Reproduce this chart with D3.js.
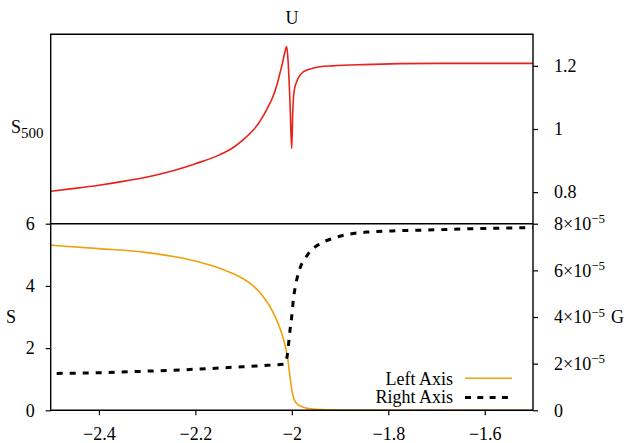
<!DOCTYPE html>
<html><head><meta charset="utf-8">
<script src="https://cdn.jsdelivr.net/npm/d3@7"></script>
<style>
body{margin:0;background:#fff}
text{font-family:"Liberation Serif","Times New Roman",serif;fill:#000}
</style>
</head><body>
<svg id="c" width="626" height="443"></svg>
<script>
// ---- data ----
const s500X = [-2.5,-2.45,-2.4,-2.35,-2.3,-2.25,-2.2,-2.15,-2.12,-2.1,-2.08,-2.07,-2.06,-2.05,-2.04,-2.035,-2.03,-2.025,-2.02,-2.015,-2.0107,-2.008,-2.0038,-2.0003,-1.998,-1.9955,-1.99,-1.985,-1.98,-1.97,-1.96,-1.942,-1.915,-1.85,-1.776,-1.7,-1.6,-1.5];
const s500Y = [0.803,0.812,0.822,0.834,0.848,0.866,0.890,0.918,0.943,0.967,0.997,1.016,1.040,1.068,1.100,1.120,1.145,1.175,1.205,1.240,1.261,1.220,1.082,0.938,1.060,1.118,1.150,1.166,1.176,1.186,1.191,1.197,1.200,1.204,1.207,1.208,1.208,1.208];

const sX = [-2.5,-2.4,-2.3,-2.2,-2.15,-2.12,-2.1,-2.09,-2.08,-2.07,-2.06,-2.05,-2.04,-2.03,-2.025,-2.02,-2.015,-2.012,-2.008,-2.004,-2.0,-1.996,-1.99,-1.98,-1.97,-1.95,-1.9,-1.8,-1.5];
const sY = [5.31,5.20,5.07,4.80,4.57,4.38,4.22,4.12,4.00,3.85,3.67,3.45,3.18,2.85,2.65,2.42,2.15,1.95,1.6,1.1,0.65,0.38,0.22,0.12,0.07,0.03,0.01,0.004,0.0];

const gX = [-2.5,-2.4,-2.3,-2.2,-2.1,-2.05,-2.015,-2.0094,-2.0038,-2.0003,-1.997,-1.9914,-1.983,-1.9727,-1.9624,-1.945,-1.915,-1.879,-1.844,-1.776,-1.7,-1.637,-1.5];
const gY = [1.58e-5,1.61e-5,1.68e-5,1.76e-5,1.87e-5,1.93e-5,1.98e-5,2.37e-5,3.44e-5,4.01e-5,4.73e-5,5.44e-5,6.1e-5,6.5e-5,6.8e-5,7.1e-5,7.37e-5,7.56e-5,7.64e-5,7.70e-5,7.74e-5,7.78e-5,7.83e-5];

const xTicks = [-2.4,-2.2,-2.0,-1.8,-1.6];
const xTickLabels = ["\u22122.4","\u22122.2","\u22122","\u22121.8","\u22121.6"];
const topRightTicks = [0.8,1.0,1.2];
const topRightLabels = ["0.8","1","1.2"];
const leftTicks = [0,2,4,6];
const leftLabels = ["0","2","4","6"];
const rightTicks = [0,2e-5,4e-5,6e-5,8e-5];
const rightMant = ["0","2\u00d710","4\u00d710","6\u00d710","8\u00d710"];
const rightExp = ["","\u22125","\u22125","\u22125","\u22125"];

const title = "U";
const legendLabels = ["Left Axis","Right Axis"];

// ---- layout ----
const L = 50.7, R = 533, T = 34.3, M = 223.7, B = 410.3;
const FS = 18;
const red = "#e8221b", orange = "#eea20c";

const svg = d3.select("#c");
const x = d3.scaleLinear().domain([-2.5,-1.5]).range([L,R]);
const yTop = d3.scaleLinear().domain([0.7,1.3]).range([M,T]);
const yLeft = d3.scaleLinear().domain([0,6]).range([B,M]);
const yRight = d3.scaleLinear().domain([0,8e-5]).range([B,M]);

svg.append("clipPath").attr("id","ct").append("rect").attr("x",L).attr("y",T).attr("width",R-L).attr("height",M-T);
svg.append("clipPath").attr("id","cb").append("rect").attr("x",L).attr("y",M).attr("width",R-L).attr("height",B-M);

// curves
const lineTop = d3.line().x((d,i)=>x(s500X[i])).y(d=>yTop(d)).curve(d3.curveMonotoneX);
svg.append("path").attr("clip-path","url(#ct)").attr("d",lineTop(s500Y))
  .attr("fill","none").attr("stroke",red).attr("stroke-width",1.6);

const lineS = d3.line().x((d,i)=>x(sX[i])).y(d=>yLeft(d)).curve(d3.curveMonotoneX);
svg.append("path").attr("clip-path","url(#cb)").attr("d",lineS(sY))
  .attr("fill","none").attr("stroke",orange).attr("stroke-width",1.6);

const lineG = d3.line().x((d,i)=>x(gX[i])).y(d=>yRight(d)).curve(d3.curveMonotoneX);
svg.append("path").attr("d",lineG(gY))
  .attr("fill","none").attr("stroke","#000").attr("stroke-width",3)
  .attr("stroke-dasharray","6,7").attr("stroke-dashoffset",7);

// frames
const fr = svg.append("g").attr("stroke","#000").attr("stroke-width",1.4).attr("fill","none");
fr.append("path").attr("d",`M${L},${M}V${T}H${R}V${B}`);
fr.append("path").attr("d",`M${L},${M}V${B}H${R}`);
fr.append("path").attr("d",`M${L},${M}H${R}`);

function styleAxis(g){
  g.select(".domain").remove();
  g.selectAll(".tick line").attr("stroke","#000").attr("stroke-width",1.2);
  g.selectAll("text").attr("font-size",FS).attr("font-family","'Liberation Serif',serif");
}

// x axis
svg.append("g").attr("transform",`translate(0,${B})`)
  .call(d3.axisBottom(x).tickValues(xTicks).tickSize(5).tickPadding(12).tickFormat((d,i)=>xTickLabels[i]))
  .call(styleAxis);

// left bottom axis
svg.append("g").attr("transform",`translate(${L},0)`)
  .call(d3.axisLeft(yLeft).tickValues(leftTicks).tickSize(5).tickPadding(11).tickFormat((d,i)=>leftLabels[i]))
  .call(styleAxis);

// top right axis
svg.append("g").attr("transform",`translate(${R},0)`)
  .call(d3.axisRight(yTop).tickValues(topRightTicks).tickSize(5).tickPadding(16).tickFormat((d,i)=>topRightLabels[i]))
  .call(styleAxis);

// bottom right axis with superscripts
const ra = svg.append("g").attr("transform",`translate(${R},0)`)
  .call(d3.axisRight(yRight).tickValues(rightTicks).tickSize(5).tickPadding(16).tickFormat(()=>""))
  .call(styleAxis);
ra.selectAll(".tick").each(function(d,i){
  const t = d3.select(this).select("text").text(null);
  t.append("tspan").text(rightMant[i]);
  if(rightExp[i]) t.append("tspan").attr("dy","-0.5em").attr("font-size",13).text(rightExp[i]);
});

// axis labels
svg.append("text").attr("x",292).attr("y",23.5).attr("text-anchor","middle").attr("font-size",FS).text(title);
const s5 = svg.append("text").attr("x",11).attr("y",132.5).attr("font-size",FS);
s5.append("tspan").text("S");
s5.append("tspan").attr("dy",5).attr("font-size",15).text("500");
svg.append("text").attr("x",6).attr("y",323).attr("font-size",FS).text("S");
svg.append("text").attr("x",611).attr("y",323).attr("font-size",FS).text("G");

// legend
const lx1 = 465, lx2 = 512;
svg.append("text").attr("x",453).attr("y",384.5).attr("text-anchor","end").attr("font-size",FS).text(legendLabels[0]);
svg.append("line").attr("x1",lx1).attr("x2",lx2).attr("y1",378.3).attr("y2",378.3).attr("stroke",orange).attr("stroke-width",1.6);
svg.append("text").attr("x",453).attr("y",403).attr("text-anchor","end").attr("font-size",FS).text(legendLabels[1]);
svg.append("line").attr("x1",lx1).attr("x2",lx2).attr("y1",397.5).attr("y2",397.5).attr("stroke","#000").attr("stroke-width",3).attr("stroke-dasharray","6,6.3");
</script>
</body></html>
